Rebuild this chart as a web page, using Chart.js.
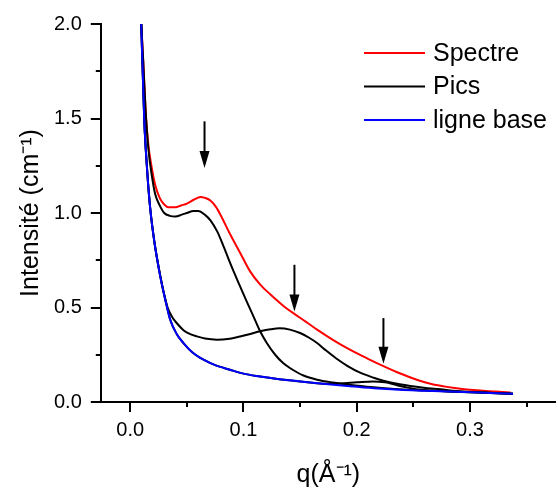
<!DOCTYPE html>
<html>
<head>
<meta charset="utf-8">
<script src="https://cdn.jsdelivr.net/npm/chart.js@4.4.0/dist/chart.umd.min.js"></script>
<style>
    html, body { margin: 0; padding: 0; background: #fff; }
    canvas { display: block; }
</style>
</head>
<body>
<canvas id="grafico" width="556" height="490"></canvas>
<script>
// Valeurs : q (Å-1) et intensité (cm-1)
const qSpectre = [0.0097, 0.0115, 0.0135, 0.0160, 0.0190, 0.0220, 0.0260, 0.0300, 0.0340, 0.0400, 0.0450, 0.0500, 0.0560, 0.0620, 0.0660, 0.0710, 0.0760, 0.0810, 0.0880, 0.0970, 0.1060, 0.1150, 0.1236, 0.1340, 0.1440, 0.1550, 0.1650, 0.1800, 0.1940, 0.2095, 0.2236, 0.2380, 0.2530, 0.2660, 0.2795, 0.2950, 0.3060, 0.3180, 0.3325, 0.3360]
const iSpectre = [2.00, 1.80, 1.55, 1.36, 1.24, 1.15, 1.08, 1.045, 1.03, 1.03, 1.04, 1.05, 1.07, 1.085, 1.08, 1.065, 1.03, 0.975, 0.89, 0.79, 0.69, 0.62, 0.57, 0.515, 0.47, 0.425, 0.383, 0.325, 0.277, 0.23, 0.19, 0.152, 0.118, 0.095, 0.08, 0.068, 0.062, 0.057, 0.051, 0.050]

// Pic 1 (ligne de base + pic vers 0.06)
const qPic1 = [0.0097, 0.0115, 0.0135, 0.0160, 0.0190, 0.0220, 0.0260, 0.0300, 0.0350, 0.0400, 0.0450, 0.0500, 0.0560, 0.0600, 0.0660, 0.0710, 0.0770, 0.0824, 0.0900, 0.0970, 0.1030, 0.1088, 0.1147, 0.1206, 0.1280, 0.1350, 0.1410, 0.1530, 0.1650, 0.1790, 0.1950, 0.2150, 0.2380, 0.2600, 0.2880, 0.3180, 0.3380]
const iPic1 = [2.00, 1.80, 1.55, 1.34, 1.20, 1.10, 1.04, 1.00, 0.985, 0.982, 0.99, 1.00, 1.01, 1.01, 0.99, 0.96, 0.90, 0.823, 0.71, 0.612, 0.53, 0.453, 0.374, 0.312, 0.25, 0.206, 0.18, 0.14, 0.118, 0.103, 0.09, 0.078, 0.067, 0.061, 0.054, 0.048, 0.044]

// Pic 2 (vers 0.13)
const qPic2 = [0.0097, 0.0124, 0.0150, 0.0177, 0.0215, 0.0265, 0.0294, 0.0330, 0.0370, 0.0410, 0.0470, 0.0525, 0.0588, 0.0660, 0.0765, 0.0860, 0.0970, 0.1060, 0.1147, 0.1240, 0.1320, 0.1410, 0.1500, 0.1580, 0.1650, 0.1730, 0.1820, 0.1920, 0.2030, 0.2150, 0.2236, 0.2380, 0.2590, 0.2740, 0.2880, 0.3180, 0.3380]
const iPic2 = [2.00, 1.49, 1.22, 1.02, 0.84, 0.67, 0.585, 0.50, 0.45, 0.418, 0.38, 0.36, 0.347, 0.336, 0.33, 0.333, 0.347, 0.36, 0.374, 0.385, 0.39, 0.383, 0.365, 0.34, 0.312, 0.272, 0.23, 0.19, 0.155, 0.128, 0.112, 0.094, 0.076, 0.067, 0.058, 0.049, 0.044]

// Pic 3 (vers 0.22)
const qPic3 = [0.0097, 0.0124, 0.0150, 0.0177, 0.0215, 0.0265, 0.0310, 0.0353, 0.0410, 0.0470, 0.0550, 0.0647, 0.0750, 0.0880, 0.1000, 0.1147, 0.1300, 0.1500, 0.1700, 0.1850, 0.2000, 0.2140, 0.2250, 0.2350, 0.2450, 0.2600, 0.2880, 0.3180, 0.3380]
const iPic3 = [2.00, 1.49, 1.22, 1.02, 0.84, 0.665, 0.54, 0.435, 0.36, 0.312, 0.262, 0.224, 0.195, 0.171, 0.150, 0.135, 0.122, 0.109, 0.097, 0.098, 0.104, 0.109, 0.104, 0.090, 0.076, 0.063, 0.054, 0.048, 0.044]

// Ligne de base
const qBase = [0.0097, 0.0124, 0.0150, 0.0177, 0.0215, 0.0265, 0.0310, 0.0353, 0.0410, 0.0470, 0.0550, 0.0647, 0.0750, 0.0880, 0.1000, 0.1147, 0.1300, 0.1500, 0.1700, 0.1940, 0.2150, 0.2380, 0.2600, 0.2880, 0.3180, 0.3380]
const iBase = [2.00, 1.49, 1.22, 1.02, 0.84, 0.665, 0.54, 0.435, 0.36, 0.312, 0.262, 0.224, 0.195, 0.171, 0.150, 0.135, 0.122, 0.109, 0.096, 0.083, 0.073, 0.065, 0.060, 0.054, 0.048, 0.044]

// Flèches (position q, haut et pointe en intensité)
const flecheQ = [0.0656, 0.145, 0.2236]
const flecheHaut = [1.485, 0.726, 0.444]
const flechePointe = [1.238, 0.479, 0.203]

// Graduations
const xTicks = [0, 0.05, 0.1, 0.15, 0.2, 0.25, 0.3, 0.35]
const xTickLabels = ['0.0', '', '0.1', '', '0.2', '', '0.3', '']
const yTicks = [0, 0.25, 0.5, 0.75, 1.0, 1.25, 1.5, 1.75, 2.0]
const yTickLabels = ['0.0', '', '0.5', '', '1.0', '', '1.5', '', '2.0']

const police = "'Liberation Sans', Arial, sans-serif"
Chart.defaults.font.family = police

function points(qs, vals) {
    return qs.map((q, k) => ({ x: q, y: vals[k] }))
}

function serie(label, qs, vals, couleur, ordre) {
    return {
        label, data: points(qs, vals), borderColor: couleur, backgroundColor: couleur,
        borderWidth: 2, pointRadius: 0, showLine: true, fill: false,
        cubicInterpolationMode: 'monotone', order: ordre
    }
}

// Graduations vers l'extérieur (grandes et petites)
const graduations = {
    id: 'graduations',
    afterDraw(chart) {
        const ctx = chart.ctx
        const { left, bottom } = chart.chartArea
        const sx = chart.scales.x, sy = chart.scales.y
        ctx.save()
        ctx.strokeStyle = '#000'
        ctx.lineWidth = 2
        ctx.beginPath()
        sx.ticks.forEach(t => {
            const px = Math.round(sx.getPixelForValue(t.value))
            const len = t.label ? 10 : 5
            ctx.moveTo(px, bottom)
            ctx.lineTo(px, bottom + len)
        })
        sy.ticks.forEach(t => {
            const py = Math.round(sy.getPixelForValue(t.value))
            const len = t.label ? 10 : 5
            ctx.moveTo(left, py)
            ctx.lineTo(left - len, py)
        })
        ctx.stroke()
        ctx.restore()
    }
}

// Flèches qui marquent les pics
const fleches = {
    id: 'fleches',
    afterDatasetsDraw(chart) {
        const ctx = chart.ctx
        const sx = chart.scales.x, sy = chart.scales.y
        ctx.save()
        ctx.strokeStyle = '#000'
        ctx.fillStyle = '#000'
        ctx.lineWidth = 2
        flecheQ.forEach((q, k) => {
            const px = sx.getPixelForValue(q)
            const yh = sy.getPixelForValue(flecheHaut[k])
            const yp = sy.getPixelForValue(flechePointe[k])
            ctx.beginPath()
            ctx.moveTo(px, yh)
            ctx.lineTo(px, yp - 12)
            ctx.stroke()
            ctx.beginPath()
            ctx.moveTo(px - 5, yp - 17)
            ctx.lineTo(px + 5, yp - 17)
            ctx.lineTo(px, yp)
            ctx.closePath()
            ctx.fill()
        })
        ctx.restore()
    }
}

// Légende dessinée à la main (une seule entrée "Pics")
const legende = {
    id: 'legende',
    afterDatasetsDraw(chart) {
        const ctx = chart.ctx
        const vus = []
        chart.data.datasets.forEach(ds => {
            if (!vus.find(v => v.label === ds.label)) vus.push(ds)
        })
        ctx.save()
        ctx.font = '25px ' + police
        ctx.textBaseline = 'middle'
        ctx.fillStyle = '#000'
        vus.forEach((ds, k) => {
            const y = 53 + k * 33.5
            ctx.strokeStyle = ds.borderColor
            ctx.lineWidth = 2
            ctx.beginPath()
            ctx.moveTo(364, y)
            ctx.lineTo(425, y)
            ctx.stroke()
            ctx.fillText(ds.label, 433, y + 1)
        })
        ctx.restore()
    }
}

function init() {
    const ctx = document.getElementById('grafico')
    new Chart(ctx, {
        type: 'scatter',
        data: {
            datasets: [
                serie('Spectre', qSpectre, iSpectre, '#ff0000', 2),
                serie('Pics', qPic1, iPic1, '#000000', 1),
                serie('Pics', qPic2, iPic2, '#000000', 1),
                serie('Pics', qPic3, iPic3, '#000000', 1),
                serie('ligne base', qBase, iBase, '#0000ff', 0)
            ]
        },
        options: {
            responsive: false,
            animation: false,
            layout: { padding: { left: 12, top: 24, right: 0, bottom: 0 } },
            plugins: { legend: { display: false }, tooltip: { enabled: false } },
            scales: {
                x: {
                    type: 'linear', min: -0.026, max: 0.376,
                    afterBuildTicks: s => { s.ticks = xTicks.map(v => ({ value: v })) },
                    ticks: {
                        callback: (v, i) => xTickLabels[i], autoSkip: false, maxRotation: 0,
                        padding: 3, color: '#000', font: { size: 20 }
                    },
                    // graduations dessinées par le plugin, on garde juste la place
                    grid: { display: false, drawTicks: true, tickLength: 13 },
                    border: { display: true, color: '#000', width: 2 },
                    title: {
                        display: true, text: 'q(Å⁻¹)', color: '#000',
                        font: { size: 25 }, padding: { top: 15, bottom: 0 }
                    }
                },
                y: {
                    type: 'linear', min: 0, max: 2.0,
                    afterBuildTicks: s => { s.ticks = yTicks.map(v => ({ value: v })) },
                    ticks: {
                        callback: (v, i) => yTickLabels[i], autoSkip: false,
                        padding: 3, color: '#000', font: { size: 20 }
                    },
                    grid: { display: false, drawTicks: true, tickLength: 16 },
                    border: { display: true, color: '#000', width: 2 },
                    title: {
                        display: true, text: 'Intensité (cm⁻¹)', color: '#000',
                        font: { size: 25 }, padding: { top: 4, bottom: 5 }
                    }
                }
            }
        },
        plugins: [graduations, fleches, legende]
    })
}

document.addEventListener('DOMContentLoaded', init)
</script>
</body>
</html>
